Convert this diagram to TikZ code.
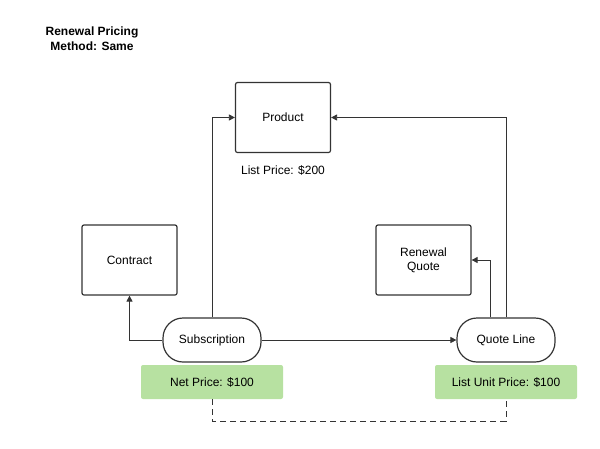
\documentclass[tikz,border=0pt]{standalone}
\usepackage{fontspec}
\setmainfont{Liberation Sans}
\usetikzlibrary{arrows.meta}
\definecolor{ln}{HTML}{333333}
\definecolor{gr}{HTML}{B7E1A1}
\begin{document}
\begin{tikzpicture}[x=1pt,y=-1pt,
 box/.style={draw=ln,line width=1.2pt,rounded corners=2pt,minimum width=95pt,minimum height=70pt,align=center,font=\fontsize{12}{14}\selectfont},
 pill/.style={draw=ln,line width=1.2pt,rounded corners=20pt,minimum width=98pt,minimum height=44pt,font=\fontsize{12}{14}\selectfont},
 green/.style={fill=gr,rounded corners=2pt,minimum width=142pt,minimum height=34pt,font=\fontsize{12}{14}\selectfont},
 con/.style={draw=ln,line width=0.8pt,-{Triangle[length=6pt,width=6pt]}},
 lbl/.style={font=\fontsize{12}{14}\selectfont}]
\useasboundingbox (0,0) rectangle (600,448);
\node[align=center,font=\bfseries\fontsize{12}{15}\selectfont] (title) at (92,39) {Renewal Pricing\\Method: Same};
\node[box] (prod) at (283,117.5) {Product};
\node[lbl] (lp) at (283,170) {List Price: \$200};
\node[box] (con) at (129.5,260) {Contract};
\node[box] (rq) at (423.5,260) {Renewal\\Quote};
\node[pill] (sub) at (212,340) {Subscription};
\node[pill] (ql) at (506,340) {Quote Line};
\node[green] (np) at (212,382) {Net Price: \$100};
\node[green] (lup) at (506,382) {List Unit Price: \$100};
\draw[con] (sub.west) -| (con.south);
\draw[con] (sub.north) |- (prod.west);
\draw[con] (sub.east) -- (ql.west);
\draw[con] (ql.north -| 490,0) |- (rq.east);
\draw[con] (ql.north) |- (prod.east);
\draw[ln,line width=0.8pt,dash pattern=on 6pt off 4pt] (np.south) -- (212,421) -- (506,421) -- (lup.south);
\end{tikzpicture}
\end{document}
